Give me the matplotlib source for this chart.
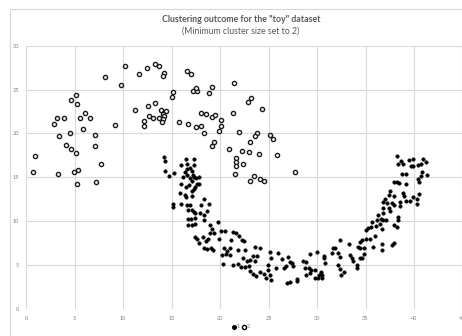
import matplotlib
matplotlib.use("Agg")
import matplotlib.pyplot as plt
from matplotlib.patches import Rectangle
from matplotlib.lines import Line2D

# Cluster 2 (hollow markers)
c2_x = [0.75, 0.9, 3.3, 2.9, 3.2, 3.9, 3.4, 4.1, 4.5, 4.6, 5.2, 4.6, 5.2, 5.3, 5.6, 6.1,
        6.6, 5.9, 7.1, 7.1, 7.7, 4.9, 5.4, 5.3, 7.2, 8.1, 9.2, 9.8, 10.2, 11.7, 12.5, 11.2,
        12.2, 12.2, 12.6, 12.7,
        13.3, 13.7, 14.2, 14.1, 16.6, 17.0, 15.2, 15.1, 13.3, 13.9, 14.4, 14.1, 13.1, 13.7,
        14.2, 14.1, 14.0, 17.2, 17.6, 17.5, 18.9, 19.2, 21.4, 18.0, 18.6, 19.2, 19.5, 15.8,
        16.7, 17.5, 18.0, 18.3, 20.1, 20.1, 19.9, 21.3, 22.9, 23.2, 24.3, 22.0, 23.8, 23.6,
        23.1, 19.4, 19.2, 20.9, 22.3, 23.0, 24.0, 25.2, 25.5, 25.9, 21.7, 21.7, 21.6, 22.4,
        21.5, 23.5, 24.1, 24.5, 23.1, 27.7]
c2_y = [15.6, 17.4, 15.4, 21.1, 21.8, 21.8, 19.7, 18.7, 20.0, 18.2, 17.8, 23.8, 24.4, 23.4,
        21.8, 22.3, 21.8, 20.5, 19.8, 18.6, 16.5, 15.6, 15.8, 14.2, 14.5, 26.4, 21.0, 25.5,
        27.7, 26.8, 27.5, 22.7, 21.4, 20.9, 23.1, 22.0,
        27.9, 27.7, 26.9, 26.5, 27.1, 26.8, 24.7, 24.2, 23.5, 22.7, 22.6, 22.2, 21.8, 21.8,
        22.0, 21.6, 21.3, 24.8, 24.8, 25.2, 24.6, 25.3, 25.8, 22.3, 22.2, 21.9, 22.1, 21.3,
        21.1, 20.7, 20.9, 20.1, 21.5, 20.9, 20.3, 22.3, 23.6, 24.0, 22.8, 20.2, 20.1, 19.7,
        19.0, 19.0, 18.6, 18.2, 18.0, 17.9, 17.7, 19.8, 19.4, 17.5, 17.2, 16.7, 16.3, 16.5,
        15.4, 15.1, 14.8, 14.6, 14.6, 15.6]

# Cluster 1 (filled markers)
c1_x = [
    # upper-left arm
    14.2, 14.3, 14.3, 14.7, 15.3, 16.5, 17.3, 16.0, 16.6, 17.3, 16.6, 16.9, 17.1, 16.4,
    16.6, 16.2, 17.2, 17.3, 17.5, 17.8, 16.9, 17.1, 17.6, 17.8, 17.4, 16.8, 16.0, 16.5,
    17.3, 17.1, 15.9, 16.4, 17.1, 16.5, 16.0, 15.2, 15.2, 16.6, 16.9, 17.1, 16.7, 18.0,
    18.4, 18.9, 18.7, 17.9, 18.4, 17.3, 17.4, 16.7, 17.0, 17.4, 18.3, 19.8, 16.7, 17.1,
    17.4, 19.0, 19.2,
    # bottom of the arc
    19.0, 19.4, 20.1, 20.5, 21.3, 21.65, 22.0, 22.3, 22.5, 17.4, 17.6, 18.2, 18.6, 18.8,
    17.8, 18.4, 18.7, 19.1, 19.3, 19.9, 21.1, 20.4, 21.0, 20.7, 20.2, 20.6, 21.0, 21.9,
    22.6, 23.6, 24.1, 25.2, 26.0, 25.3, 23.4, 23.8, 23.1, 22.8, 22.4, 21.9, 22.2, 22.6,
    23.0, 23.6, 20.3, 21.3, 23.1, 23.4, 23.7, 24.1, 24.5, 24.9, 24.7, 25.2, 25.3, 24.9,
    25.8,
    26.4, 26.8, 26.6, 27.0, 27.2, 27.4, 27.5, 26.9, 27.2, 27.9, 27.9, 28.6, 28.9, 28.8,
    28.9, 29.2, 29.4, 29.3, 29.3, 30.0, 29.8, 30.2, 29.8, 30.1, 30.5, 30.5, 30.8, 30.7,
    30.7, 30.4, 31.5, 31.7, 31.9, 32.4, 32.2, 32.4, 32.2, 32.4, 32.8, 32.5, 33.3, 33.4,
    33.6, 33.7, 34.1, 34.1, 34.4, 34.2, 34.4, 34.4, 34.6, 34.8, 34.8, 34.6, 35.1, 35.5,
    35.8, 36.7, 36.7, 37.7, 37.9,
    # rising right arm
    38.2, 38.3, 38.7, 38.9, 39.5, 39.9, 39.7, 39.9, 40.45, 40.7, 40.9, 41.2, 38.8, 39.2,
    40.8, 40.7, 40.4, 41.3, 40.5, 37.9, 38.2, 38.5, 39.2, 37.5, 37.4, 37.9, 38.9, 39.0,
    39.9, 40.5, 40.3, 39.6, 39.2, 40.3, 37.0, 36.8, 37.2, 37.7, 37.9, 38.6, 38.6, 37.4,
    37.5, 36.8, 36.8, 36.3, 36.8, 37.1, 36.6, 36.2, 35.7, 38.4, 38.3, 36.5, 36.7, 36.1,
    35.6, 35.3, 35.0, 37.9, 38.2, 36.0,
]
c1_y = [
    17.3, 16.9, 15.7, 15.1, 15.5, 17.1, 17.1, 16.4, 16.5, 16.4, 15.9, 16.1, 15.7, 15.6,
    15.3, 15.0, 15.3, 15.0, 14.9, 15.0, 14.9, 14.6, 14.2, 14.2, 13.9, 14.1, 14.2, 13.9,
    13.7, 13.4, 13.2, 13.0, 12.9, 12.7, 11.9, 12.0, 11.6, 11.8, 11.8, 11.3, 11.3, 11.8,
    12.5, 11.9, 11.2, 10.9, 10.7, 11.0, 10.9, 10.2, 10.2, 10.4, 10.1, 9.9, 9.6, 9.6,
    9.7, 9.5, 9.1,
    8.7, 8.6, 8.9, 8.9, 8.8, 8.7, 8.3, 7.8, 7.7, 8.2, 8.0, 8.2, 7.7, 8.0,
    7.5, 6.9, 6.8, 6.9, 6.7, 8.0, 7.9, 6.9, 6.9, 6.6, 6.1, 6.3, 6.1, 6.7,
    6.7, 7.1, 6.9, 6.5, 6.4, 5.8, 6.0, 6.0, 5.6, 5.4, 5.8, 5.1, 4.8, 4.8,
    4.9, 5.4, 5.1, 5.0, 4.3, 4.0, 3.7, 4.2, 4.0, 4.4, 3.5, 3.9, 3.3, 5.0,
    4.6,
    5.7, 4.9, 4.6, 5.9, 5.3, 5.2, 4.9, 2.9, 3.1, 3.4, 3.2, 5.5, 5.3, 4.6,
    3.9, 4.6, 4.4, 4.05, 6.2, 6.5, 4.4, 3.85, 3.5, 3.5, 3.5, 3.85, 5.2, 5.75,
    6.05, 4.15, 6.4, 6.9, 6.9, 7.8, 6.4, 5.95, 5.0, 4.5, 4.2, 3.9, 7.4, 6.1,
    5.75, 5.4, 5.0, 4.6, 5.75, 7.1, 6.9, 7.6, 7.85, 6.9, 6.2, 5.75, 8.0, 8.0,
    7.1, 7.4, 6.7, 7.3, 7.5,
    17.4, 16.5, 16.8, 16.5, 17.0, 17.1, 16.3, 16.3, 16.4, 16.5, 17.05, 16.7, 15.4, 15.4,
    15.6, 15.1, 14.75, 15.2, 14.5, 14.5, 14.5, 14.3, 14.2, 13.4, 13.0, 12.9, 13.2, 12.9,
    12.7, 13.1, 12.5, 12.3, 12.3, 12.0, 12.5, 12.2, 12.1, 12.1, 11.8, 12.2, 11.7, 11.5,
    11.1, 11.45, 10.9, 10.7, 10.1, 10.1, 10.25, 10.1, 9.9, 10.5, 10.1, 9.7, 9.1, 9.4,
    9.3, 9.2, 9.0, 9.55, 9.3, 8.3,
]

legend_labels = ["1", "2"]
x_ticks = list(range(0, 46, 5))
y_ticks = list(range(0, 31, 5))

W, H = 462, 336
fig = plt.figure(figsize=(W / 100, H / 100), dpi=100)
fig.patch.set_facecolor("white")

# chart frame
fig.patches.append(Rectangle((10 / W, -0.1), 1.2, (336 - 9) / H + 0.1,
                             transform=fig.transFigure, fill=False,
                             edgecolor="#d9d9d9", linewidth=0.8))

left, right = 26 / W, (26 + 45 * 9.7) / W
bottom, top = (H - 308.8) / H, (H - 45.7) / H
ax = fig.add_axes([left, bottom, right - left, top - bottom])
ax.set_xlim(0, 45)
ax.set_ylim(0, 30)
ax.set_xticks(x_ticks)
ax.set_yticks(y_ticks)
ax.grid(True, color="#d9d9d9", linewidth=0.8)
ax.set_axisbelow(True)
for s in ax.spines.values():
    s.set_visible(False)
ax.tick_params(length=0, labelsize=4, labelcolor="#7f7f7f", pad=5)
for lab in ax.get_xticklabels() + ax.get_yticklabels():
    lab.set_family("Lato")
    lab.set_clip_on(False)

ax.scatter(c1_x, c1_y, s=6.5, color="black", edgecolors="black", linewidths=0.3, zorder=3)
ax.scatter(c2_x, c2_y, s=9, facecolors="white", edgecolors="#1a1a1a", linewidths=1.0, zorder=3)

fig.text(241 / W, 1 - 19 / H, 'Clustering outcome for the "toy" dataset',
         ha="center", va="center", fontsize=6.3, fontweight="bold",
         color="#595959", family="Lato")
fig.text(241 / W, 1 - 31 / H, "(Minimum cluster size set to 2)",
         ha="center", va="center", fontsize=6.3, color="#595959", family="Lato")

handles = [
    Line2D([], [], marker="o", linestyle="none", markersize=2.6,
           markerfacecolor="black", markeredgecolor="black"),
    Line2D([], [], marker="o", linestyle="none", markersize=3.0,
           markerfacecolor="white", markeredgecolor="black", markeredgewidth=1.0),
]
fig.legend(handles, legend_labels, loc="center", bbox_to_anchor=(241 / W, 1 - 327 / H),
           ncol=2, frameon=False, handletextpad=0.1, columnspacing=0.4,
           handlelength=0.8, labelcolor="#7f7f7f", prop={"family": "Lato", "size": 4})

fig.savefig("out.png", dpi=100)
